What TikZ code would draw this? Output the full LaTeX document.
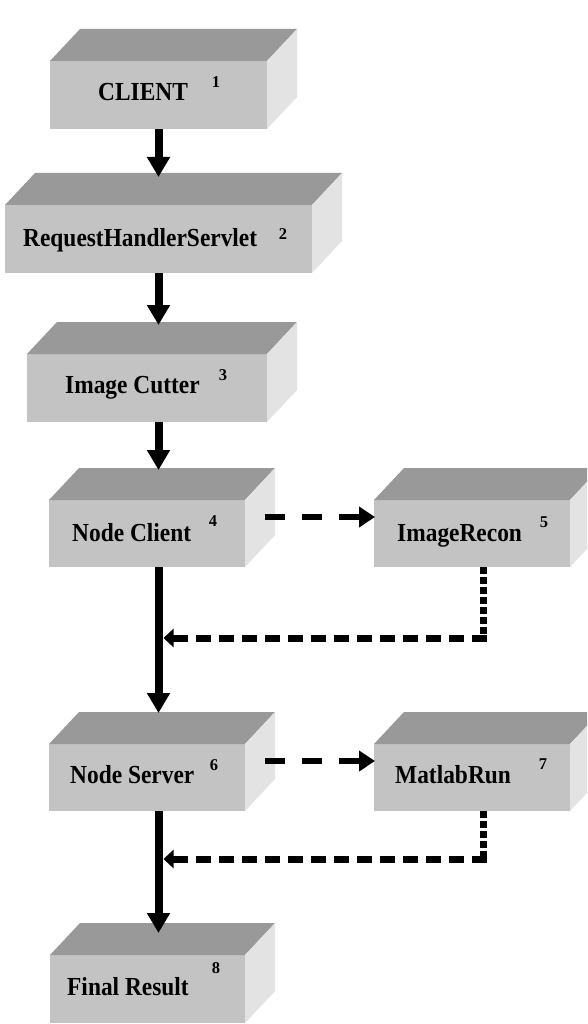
\documentclass[tikz,border=0pt]{standalone}
\usepackage{fontspec}
\setmainfont{Liberation Serif}
\newfontfamily\lblfont{Liberation Serif}[FakeStretch=0.9]
\usetikzlibrary{arrows.meta,calc}
\definecolor{topc}{HTML}{999999}
\definecolor{frontc}{HTML}{C3C3C3}
\definecolor{sidec}{HTML}{E3E3E3}
\begin{document}
\begin{tikzpicture}[x=1pt,y=-1pt,
  front/.style={rectangle,fill=frontc,draw=none,inner sep=0pt,outer sep=0pt},
  topface/.style={fill=topc},
  sideface/.style={fill=sidec},
  lbl/.style={anchor=base west,inner sep=0pt,font=\lblfont\bfseries\fontsize{26}{30}\selectfont},
  num/.style={anchor=center,inner sep=0pt,font=\bfseries\fontsize{16.5}{19}\selectfont},
  mainarrow/.style={line width=8pt,-{Triangle[width=22pt,length=20pt]}},
  callarrow/.style={line width=6pt,dash pattern=on 20pt off 17pt,-{Triangle[width=20pt,length=16pt]}},
  retdots/.style={line width=7pt,dash pattern=on 7pt off 3pt},
  retarrow/.style={line width=7pt,dash pattern=on 15pt off 8pt,-{Triangle[width=18pt,length=10pt]}}]
\useasboundingbox (0,0) rectangle (587,1024);
\fill[white] (0,0) rectangle (587,1024);
\clip (0,0) rectangle (587,1024);
% front faces
\node[front,minimum width=217pt,minimum height=68pt] (b1) at (158.5,95) {};
\node[front,minimum width=307pt,minimum height=68pt] (b2) at (158.5,239) {};
\node[front,minimum width=240pt,minimum height=68pt] (b3) at (147,388) {};
\node[front,minimum width=196pt,minimum height=67pt] (b4) at (147,533.5) {};
\node[front,minimum width=196pt,minimum height=67pt] (b5) at (472,533.5) {};
\node[front,minimum width=196pt,minimum height=67pt] (b6) at (147,777.5) {};
\node[front,minimum width=196pt,minimum height=67pt] (b7) at (472,777.5) {};
\node[front,minimum width=195pt,minimum height=68pt] (b8) at (147.5,989) {};
% top and side faces
\foreach \n in {b1,b2,b3,b4,b5,b6,b7,b8}{
  \fill[topface] (\n.north west) -- ++(30,-32) -- ($(\n.north east)+(30,-32)$) -- (\n.north east) -- cycle;
  \fill[sideface] (\n.north east) -- ++(30,-32) -- ($(\n.south east)+(30,-32)$) -- (\n.south east) -- cycle;
}
% labels
\node[lbl] (t1) at (98,101) {CLIENT};
\node[lbl] (t2) at (23,246) {RequestHandlerServlet};
\node[lbl] (t3) at (65,393) {Image Cutter};
\node[lbl] (t4) at (72,541) {Node Client};
\node[lbl] (t5) at (397,541) {ImageRecon};
\node[lbl] (t6) at (70,783) {Node Server};
\node[lbl] (t7) at (395,783) {MatlabRun};
\node[lbl] (t8) at (67,995) {Final Result};
\node[num] (n1) at (216,82) {1};
\node[num] (n2) at (283,234) {2};
\node[num] (n3) at (223,375) {3};
\node[num] (n4) at (213,521) {4};
\node[num] (n5) at (544,522) {5};
\node[num] (n6) at (214,765) {6};
\node[num] (n7) at (543,764) {7};
\node[num] (n8) at (216,968) {8};
% main flow
\draw[mainarrow] (b1.south) -- ($(b1.south |- b2.north)+(0,-28)$);
\draw[mainarrow] (b1.south |- b2.south) -- ($(b1.south |- b3.north)+(0,-29)$);
\draw[mainarrow] (b1.south |- b3.south) -- ($(b1.south |- b4.north)+(0,-30)$);
\draw[mainarrow] (b1.south |- b4.south) -- ($(b1.south |- b6.north)+(0,-31)$);
\draw[mainarrow] (b1.south |- b6.south) -- ($(b1.south |- b8.north)+(0,-22)$);
% calls
\draw[callarrow] ($(b4.north east)+(20,17)$) -- ($(b5.north west)+(1,17)$);
\draw[callarrow] ($(b6.north east)+(20,17)$) -- ($(b7.north west)+(1,17)$);
% returns
\coordinate (c5) at ($(b5.south west)+(109,71)$);
\coordinate (c7) at ($(b7.south west)+(109,48)$);
\draw[retdots] ($(b5.south west)+(109,0)$) -- ($(c5)+(0,3.5)$);
\draw[retarrow] ($(c5)+(3.5,0)$) -- ($(b1.south |- c5)+(5,0)$);
\draw[retdots] ($(b7.south west)+(109,0)$) -- ($(c7)+(0,3.5)$);
\draw[retarrow] ($(c7)+(3.5,0)$) -- ($(b1.south |- c7)+(5,0)$);
\end{tikzpicture}
\end{document}
